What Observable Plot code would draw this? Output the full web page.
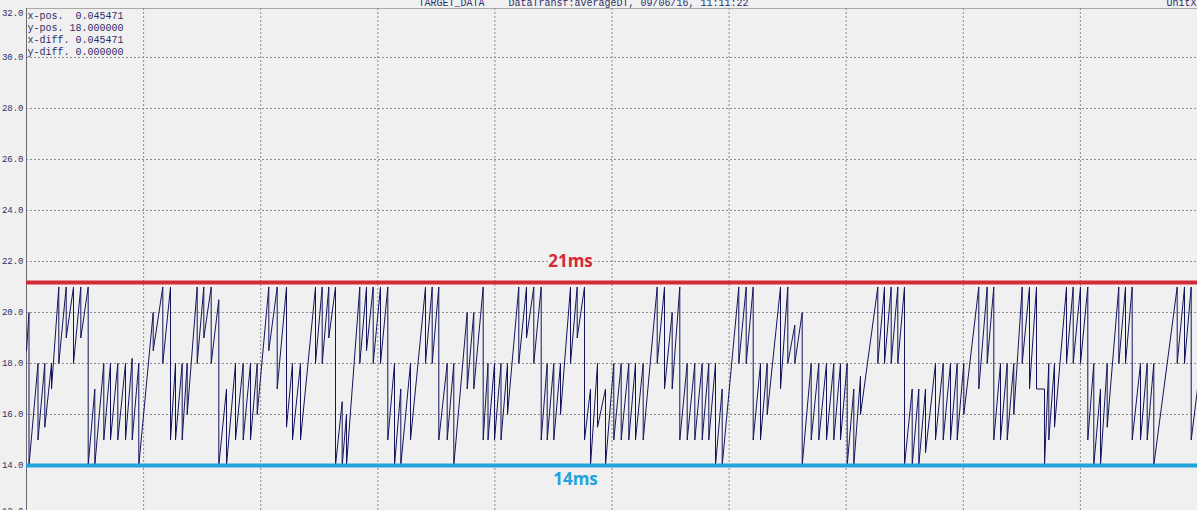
<!DOCTYPE html>
<html><head><meta charset="utf-8">
<script src="https://cdn.jsdelivr.net/npm/d3@7"></script>
<script src="https://cdn.jsdelivr.net/npm/@observablehq/plot@0.6"></script>
<style>html,body{margin:0;padding:0;background:#f0f0f0;overflow:hidden}#chart svg{display:block}</style>
</head><body><div id="chart"></div>
<script>
// ---- data ----
const titleText = "TARGET_DATA    DataTransf:averageDT, 09/06/16, 11:11:22";
const unitText = "UnitX";
const cursorLines = ["x-pos.  0.045471", "y-pos. 18.000000", "x-diff. 0.045471", "y-diff. 0.000000"];
const yTickValues = [14, 16, 18, 20, 22, 24, 26, 28, 30];
const yTopTick = [32];
const yBottomTick = [12];
const limitValues = [21.18, 14.0];
const limitLabels = ["21ms", "14ms"];

// waveform: start sample, then each tooth = time of the drop, peak before it, trough after it
const startSample = {t: 0, v: 18.5};
const endSample = {t: 1171, v: 17};
const dropT = [2.5,11.5,18.3,25,32.3,39.7,47,54.3,61.7,68.3,77.3,84,91.3,99,105.7,112.3,126.7,136.3,144,149,155.7,160.7,170.7,177.3,184.7,192.3,200,209,216.7,224,230.7,242.3,250.7,260,266,274,289,295.7,302.3,309,315.7,320,333.3,340,346.7,354,361.3,368,374.3,384,399,405.7,412.3,420.7,427.3,440.7,447.3,456.7,461.5,468,474.5,481,492.3,500,507.3,514.7,520.7,527.3,534,544,550.7,558,564,571,579,587.3,594.7,602.3,609,616.7,630.7,638,645.7,653.3,660.7,668.3,675.7,682.3,689,695.7,712.3,719.7,726.7,734,740.7,754,761.3,768.3,775.7,784.7,792.3,800,807.3,814,820.7,827.3,834,851.3,858,864.7,871.3,878,885.7,892.3,899,909,916.7,924,930.7,937.3,952.3,960.7,967.3,974,980.7,987.3,995.7,1003,1010,1018,1022.3,1028,1040,1046.7,1054,1061.3,1067.3,1074,1080.7,1092.3,1099,1105.7,1114,1120.7,1127.3,1150.7,1158,1164.7];
const peakV = [20,18,18,18,21,21,21,21,21,17,18,18,18,18,18.2,18,20,21,21,18,18,18,21,21,21,20.5,17,18,18,18,18,21,21,21,18,18,21,21,21,21,16.5,16,21,21,21,21,21,18,17,18,21,21,21,18,18,20,20,21,18,18,18,18,21,21,21,21,18,18,18,21,21,21,17,18,17,18,18,18,18,18,21,21,20,21,18,18,18,18,18,17,21,21,21,18,18,21,21,19.5,20,18,18,18,18,18,18,17,17.5,21,21,21,21,21,17,17,17,18,18,18,18,18,21,21,21,18,18,18,21,21,21,17,18,18,21,21,21,21,18,17,18,21,21,21,18,18,18,21,21,21];
const troughV = [14,15,15.5,17,18,19,18,19,14,14,15,15,15,15,15,14,18.5,18,15,15,15,16,18,19,18,14,14,15,15,15,16,18.5,17,15.5,15,15,18,18,19,14,14,14,18,18.5,18,18,15,14,14,15,18,18,15,15,14,17,17,15,15,15,15,16,18,19,18,15,15,15,16,18,19,15,14,15.5,14,15,15,15,15,15,18,17,17,15,15,15,15,15,14,14,18,18,15,15,16,17,18,18,14,15,15,15,15,15,14,14,16,18,18,18,18,14,14,14,14.5,15,15,15,15,16,17,18,15,15,15,16,18,17,17,14,15,15.5,18,18,18,15,14,14,15.5,18,18,15,15,15,14,18,18,15];

// ---- build the line ----
const wave = [startSample];
dropT.forEach((t, i) => { wave.push({t, v: peakV[i]}); wave.push({t, v: troughV[i]}); });
wave.push(endSample);

const bg = "#f0f0f0";
const ink = "#2e2e6a";
const mono = "'Liberation Mono', 'DejaVu Sans Mono', monospace";
const nb = s => s.replace(/ /g, "\u00a0");
const gridXTicks = d3.range(0, 11).map(i => i * 117.1);
const axisOpts = {tickSize: 0, tickPadding: 3, tickFormat: d => d.toFixed(1), fontFamily: mono, fontSize: 9, fill: ink, label: null};

const chart = Plot.plot({
  width: 1197, height: 510,
  marginLeft: 26, marginRight: 0, marginTop: 8, marginBottom: 0,
  style: {background: bg, overflow: "visible"},
  x: {domain: [0, 1171], axis: null},
  y: {domain: [12.235, 31.92], axis: null},
  marks: [
    Plot.frame({stroke: "#a9a9a9"}),
    Plot.gridX(gridXTicks, {stroke: "#8a8a8a", strokeOpacity: 1, strokeDasharray: "2,2"}),
    Plot.gridY(yTickValues, {stroke: "#8a8a8a", strokeOpacity: 1, strokeDasharray: "2,2"}),
    Plot.ruleX([0], {stroke: "#6a6a6a"}),
    Plot.axisY(yTickValues, axisOpts),
    Plot.axisY(yTopTick, {...axisOpts, dy: 7}),
    Plot.axisY(yBottomTick, {...axisOpts, dy: -5}),
    Plot.line(wave, {x: "t", y: "v", stroke: "#14145c", strokeWidth: 1, clip: true}),
    Plot.ruleY([limitValues[0]], {stroke: "#d42a36", strokeWidth: 4}),
    Plot.ruleY([limitValues[1]], {stroke: "#24a2da", strokeWidth: 4}),
    Plot.text([limitLabels[0]], {x: 544, y: limitValues[0], dy: -21, fill: "#d42a36", fontFamily: "'Open Sans', sans-serif", fontWeight: 700, fontSize: 17, stroke: bg, strokeWidth: 6, paintOrder: "stroke"}),
    Plot.text([limitLabels[1]], {x: 549, y: limitValues[1], dy: 14, fill: "#24a2da", fontFamily: "'Open Sans', sans-serif", fontWeight: 700, fontSize: 17}),
    Plot.text([nb(cursorLines.join("\n"))], {frameAnchor: "top-left", dx: 1, dy: 2, lineAnchor: "top", textAnchor: "start", lineHeight: 1.2, fontFamily: mono, fontSize: 10, fill: ink}),
    Plot.text([nb(titleText)], {frameAnchor: "top-left", dx: 392, dy: -6, lineAnchor: "middle", textAnchor: "start", fontFamily: mono, fontSize: 10, fill: ink}),
    Plot.text([unitText], {frameAnchor: "top-right", dx: -1, dy: -6, lineAnchor: "middle", textAnchor: "end", fontFamily: mono, fontSize: 10, fill: ink})
  ]
});
document.getElementById("chart").appendChild(chart);
</script></body></html>
